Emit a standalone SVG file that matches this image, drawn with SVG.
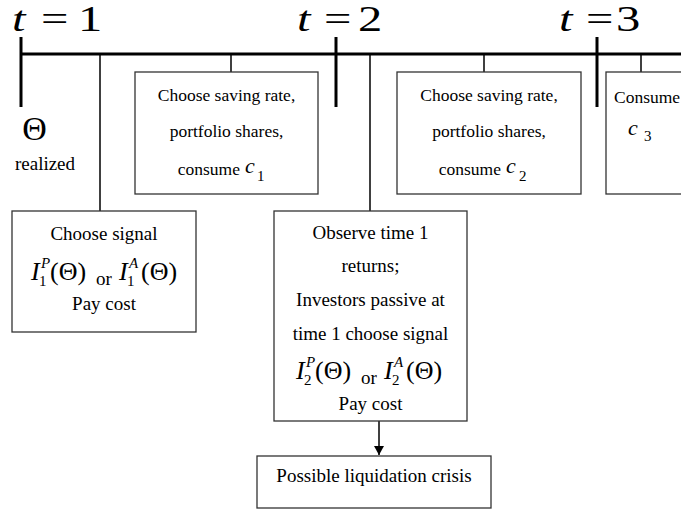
<svg xmlns="http://www.w3.org/2000/svg" width="681" height="514" viewBox="0 0 681 514" font-family="'Liberation Serif', 'Times New Roman', serif">
<defs>
<style>
.bx{fill:#fff;stroke:#333;stroke-width:1.3}
.tl{stroke:#000;stroke-width:3;fill:none}
.cn{stroke:#000;stroke-width:1.5;fill:none}
.t1{font-size:17.5px;text-anchor:middle}
.t2{font-size:19px;text-anchor:middle}
.cs{font-size:17.5px;text-anchor:end}
.cv{font-size:22px;font-style:italic}
.big{font-size:36px}
.m{font-size:26px}
.it{font-style:italic}
.s{font-size:15px}
.or{font-size:19px}
</style>
<marker id="ah" markerWidth="10" markerHeight="10" refX="9" refY="5" orient="auto" markerUnits="userSpaceOnUse">
<path d="M0,0 L9,5 L0,10 Z" fill="#000"/>
</marker>
</defs>
<rect width="681" height="514" fill="#fff"/>

<g id="timeline">
<line class="tl" x1="20" y1="54" x2="681" y2="54"/>
<line class="tl" x1="21" y1="37" x2="21" y2="107"/>
<line class="tl" x1="336" y1="37" x2="336" y2="107"/>
<line class="tl" x1="597" y1="37" x2="597" y2="107"/>
</g>

<g id="labels">
<g transform="translate(12,31) scale(1.35,1)"><text class="big it" x="0" y="0">t</text></g>
<g transform="translate(41,31) scale(1.35,1)"><text class="big" x="0" y="0">=</text></g>
<g transform="translate(78,31) scale(1.35,1)"><text class="big" x="0" y="0">1</text></g>
<g transform="translate(297,31) scale(1.35,1)"><text class="big it" x="0" y="0">t</text></g>
<g transform="translate(324,31) scale(1.35,1)"><text class="big" x="0" y="0">=</text></g>
<g transform="translate(358,31) scale(1.35,1)"><text class="big" x="0" y="0">2</text></g>
<g transform="translate(559,31) scale(1.35,1)"><text class="big it" x="0" y="0">t</text></g>
<g transform="translate(586,31) scale(1.35,1)"><text class="big" x="0" y="0">=</text></g>
<g transform="translate(616,31) scale(1.35,1)"><text class="big" x="0" y="0">3</text></g>
</g>

<g id="connectors">
<line class="cn" x1="100" y1="54" x2="100" y2="211"/>
<line class="cn" x1="231" y1="54" x2="231" y2="72"/>
<line class="cn" x1="370" y1="54" x2="370" y2="211"/>
<line class="cn" x1="484" y1="54" x2="484" y2="72"/>
<line class="cn" x1="641" y1="54" x2="641" y2="72"/>
<line class="cn" x1="379" y1="421" x2="379" y2="455" marker-end="url(#ah)" stroke-width="2"/>
</g>

<g id="theta">
<text x="34.5" y="140" font-size="34" text-anchor="middle">Θ</text>
<text class="t2" x="45" y="170">realized</text>
</g>

<g id="box-c1">
<rect class="bx" x="135" y="72" width="183" height="122"/>
<text class="t1" x="226.5" y="101">Choose saving rate,</text>
<text class="t1" x="226.5" y="137">portfolio shares,</text>
<text class="cs" x="240" y="175">consume</text>
<text class="cv" x="245" y="173">c</text>
<text class="s" x="257" y="181">1</text>
</g>

<g id="box-c2">
<rect class="bx" x="397" y="72" width="184" height="122"/>
<text class="t1" x="489" y="101">Choose saving rate,</text>
<text class="t1" x="489" y="137">portfolio shares,</text>
<text class="cs" x="501" y="175">consume</text>
<text class="cv" x="506" y="173">c</text>
<text class="s" x="519" y="181">2</text>
</g>

<g id="box-c3">
<rect class="bx" x="606" y="72" width="100" height="122"/>
<text x="614" y="103" font-size="17.5">Consume</text>
<text class="cv" x="628" y="135">c</text>
<text x="644" y="141" class="s">3</text>
</g>

<g id="box-signal1">
<rect class="bx" x="12" y="211" width="184" height="121"/>
<text class="t2" x="104" y="240">Choose signal</text>
<text class="m it" x="31" y="280">I</text>
<text class="s it" x="41" y="268">P</text>
<text class="s" x="39" y="286">1</text>
<text class="m" x="50" y="280">(Θ)</text>
<text class="or" x="96" y="285">or</text>
<text class="m it" x="119" y="280">I</text>
<text class="s it" x="129" y="268">A</text>
<text class="s" x="127" y="286">1</text>
<text class="m" x="141" y="280">(Θ)</text>
<text class="t2" x="104" y="310">Pay cost</text>
</g>

<g id="box-observe">
<rect class="bx" x="274" y="211" width="193" height="210"/>
<text class="t2" x="370.5" y="239">Observe time 1</text>
<text class="t2" x="370.5" y="272">returns;</text>
<text class="t2" x="370.5" y="306">Investors passive at</text>
<text class="t2" x="370.5" y="340">time 1 choose signal</text>
<text class="m it" x="296" y="379">I</text>
<text class="s it" x="306" y="367">P</text>
<text class="s" x="304" y="385">2</text>
<text class="m" x="315" y="379">(Θ)</text>
<text class="or" x="361" y="384">or</text>
<text class="m it" x="384" y="379">I</text>
<text class="s it" x="394" y="367">A</text>
<text class="s" x="392" y="385">2</text>
<text class="m" x="406" y="379">(Θ)</text>
<text class="t2" x="370.5" y="410">Pay cost</text>
</g>

<g id="box-crisis">
<rect class="bx" x="257" y="456" width="234" height="52"/>
<text class="t2" x="374" y="482">Possible liquidation crisis</text>
</g>
</svg>
